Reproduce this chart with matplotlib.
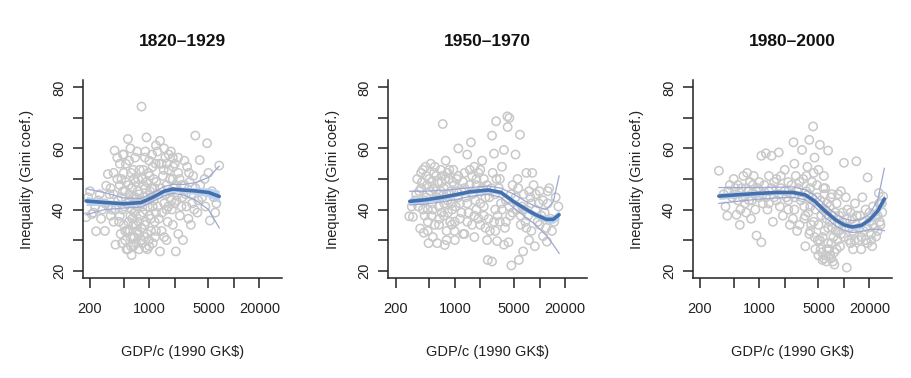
import numpy as np
import matplotlib
matplotlib.use("Agg")
import matplotlib.pyplot as plt
from matplotlib.ticker import FixedLocator, NullLocator

plt.rcParams["font.family"] = ["Liberation Sans", "DejaVu Sans"]

# ---- Data: 1820-1929 ----
gdp_a = [180, 190, 200, 210, 236, 230, 250, 220,
         270, 300, 310, 325, 340, 360, 390, 380, 350, 300, 400, 420, 380, 330,
         450, 470, 480, 500, 520, 540, 560, 580, 600, 620, 640, 660, 680, 700,
         450, 500, 520, 550, 570, 590, 610, 630, 650, 670, 690, 440, 460, 490,
         530, 580, 620, 650, 680,
         720, 740, 760, 780, 800, 811, 830, 860, 880, 900, 929, 950, 980, 1000,
         1020, 1050, 1080, 1100, 1130, 1160, 1190, 720, 760, 800, 850, 900, 950,
         1000, 1050, 1100, 1150, 1200,
         1250, 1300, 1340, 1340, 1400, 1450, 1500, 1550, 1600, 1650, 1700, 1750,
         1800, 1850, 1900, 1950, 2000, 2060, 2100, 2200, 2300, 2400, 2500, 1300,
         1400, 1500, 1600, 1700, 1800, 1900, 2000, 2200, 2400,
         2700, 2800, 2900, 3000, 3200, 3500, 3500, 3700, 3950, 4200, 4500, 4820,
         5000, 5200, 5500, 6000, 6700, 2600, 3100, 3300, 3800, 4000, 4600, 5800,
         6200,
         430, 450, 470, 490, 510, 530, 550, 570, 590, 610, 630, 650, 670, 690,
         710, 730, 750, 770, 790, 810, 830, 850, 870, 890, 910, 930, 960, 990,
         1010, 1040, 1070, 1100, 1130, 1170, 1210, 1260, 1310, 1360, 1420, 1480,
         1540, 1620, 1680, 1760, 1830, 1920, 2030, 2150, 2280, 2450, 2600, 2750,
         2950, 3150, 3400, 700, 750, 820, 880, 950, 600, 560, 520, 480, 650,
         1000, 1200, 1600, 2200, 500, 600, 900, 1200, 1500, 1900, 380, 420, 400,
         350, 280, 260]
gini_a = [37.5, 44, 46, 38.5, 32.9, 41, 43, 39,
          37, 33, 47.8, 51.6, 45, 40, 59.3, 36, 38, 42, 28.5, 57, 52, 41,
          48, 44, 40, 35, 30, 27, 63.1, 45, 38, 25.1, 31, 50, 42, 29,
          55, 52, 46, 42, 36, 33, 28, 47, 53, 39, 44, 36, 32, 58,
          49, 56, 40, 35, 57,
          59, 50, 45, 38, 30, 73.7, 41, 48, 35, 27.5, 63.6, 43, 52, 38,
          46, 33, 58, 41, 50, 36, 55, 33, 27, 42, 53, 47, 32,
          56, 44, 29, 47, 39,
          59, 45, 62.5, 26.3, 33, 51, 42, 57, 48, 36, 53, 44,
          59, 40, 50, 47, 55, 26.3, 43, 52, 38, 48, 30, 37,
          55, 31, 40, 58, 46, 35, 42, 57, 41,
          45, 54, 37, 49, 42, 64.2, 47, 39, 56.2, 44, 50, 61.7,
          52, 36.4, 46, 39, 54.4, 56, 35, 51, 43, 48, 41, 44,
          42,
          43, 38, 50, 46, 41, 55, 33, 48, 43, 52, 37, 44, 31, 49,
          41, 46, 36, 53, 43, 34, 50, 39, 44, 57, 36, 49, 41, 30,
          51, 37, 47, 54, 43, 31, 49, 41, 55, 47, 39, 53,
          45, 55, 41, 50, 43, 54, 48, 45, 50, 44, 48, 41,
          52, 45, 40, 35, 32, 29, 31, 27, 31, 27, 33, 29, 28,
          28, 33, 30, 32, 58, 60, 59, 61, 60, 57, 45, 50, 40,
          47, 40, 45]
fit_x_a = [180, 300, 500, 800, 1100, 1500, 1900, 2500, 3500, 5000, 6700]
fit_a = [42.8, 42.3, 41.9, 42.3, 44.0, 46.0, 46.7, 46.4, 46.1, 45.6, 44.3]
hi_a = [46.8, 45.5, 43.8, 43.6, 45.5, 47.5, 48.3, 48.2, 48.8, 50.5, 54.2]
lo_a = [38.3, 40.0, 40.5, 40.8, 42.6, 44.5, 45.3, 44.8, 43.2, 40.0, 34.0]
se_a = [1.5, 1.0, 0.8, 0.7, 0.7, 0.8, 0.8, 0.9, 1.1, 1.5, 2.0]

# ---- Data: 1950-1970 ----
gdp_b = [290, 320, 310, 340, 360, 390, 380, 400, 430, 420, 450, 470, 480, 460,
         500, 410, 440, 490,
         520, 540, 560, 580, 600, 620, 650, 680, 720, 700, 740, 760, 780, 800,
         820, 850, 880, 900, 930, 960, 990, 530, 570, 610, 660, 700, 750, 820,
         870, 920, 980,
         1020, 1050, 1100, 1150, 1200, 1250, 1300, 1350, 1400, 1450, 1500, 1550,
         1600, 1700, 1750, 1800, 1900, 2000, 2100, 2200, 2300, 2450, 2400, 1100,
         1250, 1400, 1600, 1800, 2000, 2200,
         2550, 2750, 2750, 2800, 2900, 3000, 3070, 3150, 3300, 3400, 3600, 3800,
         3800, 4000, 4170, 4200, 4300, 4400, 4500, 4650, 4800, 2600, 3100, 3500,
         3900, 4600, 2900,
         5200, 5400, 5700, 5870, 6000, 6400, 6500, 7000, 7300, 7800, 8000, 8500,
         9000, 9500, 10000, 11000, 11500, 12200, 12500, 13500, 14900, 15500,
         16700, 5500, 6200, 6800, 7500, 8200, 8800, 9800, 10500, 12000, 13000,
         350, 370, 400, 420, 440, 460, 480, 510, 530, 550, 580, 600, 630, 650,
         680, 710, 740, 770, 800, 830, 860, 900, 940, 1000, 1050, 1100, 1150,
         1200, 1300, 1400, 1500, 1600, 1700, 1800, 1900, 2000, 2100, 2200, 2300,
         2500, 2700, 3000, 3200, 3400, 3600, 4000, 4400, 4800, 5200, 5600, 6000,
         6500, 7000, 7500, 8000, 9000, 10000, 11000, 12500, 14000, 800, 1000,
         1300, 1700, 2000, 2400, 3000, 650, 550, 480]
gini_b = [37.8, 37.6, 41, 43, 50, 33.8, 46, 52, 32.4, 40, 54, 48, 36, 44,
          50, 49, 38, 29,
          55, 42, 47, 35, 51, 29, 45, 53, 68, 39, 47, 28.4, 56, 30,
          43, 50, 36, 46, 40, 53, 33, 38, 52, 44, 37, 49, 42, 52,
          45, 35, 48,
          41, 50, 60, 37, 46, 32, 52, 44, 58, 39, 48, 62,
          35, 54, 43, 50, 37, 46, 56, 41, 34, 23.5, 48, 44,
          49, 36, 51, 40, 53, 38,
          44, 64.2, 23, 52, 58.3, 40, 68.9, 29.7, 47, 36, 54, 28.5,
          59.5, 43, 70.5, 67, 29.3, 70, 38, 21.7, 48, 33, 50, 42,
          34, 45, 36,
          58, 40, 23.5, 64.5, 35, 26.3, 45, 52, 38, 44, 33, 48,
          40, 36, 46, 31.3, 39, 29.5, 42, 37, 36, 44,
          41, 50, 41, 36, 30, 52, 28, 42, 38, 34, 47,
          45, 41, 47, 53, 43, 51, 40, 46, 49, 40, 54, 46, 49, 41,
          46, 51, 38, 50, 45, 39, 53, 42, 49, 36, 46, 51, 42,
          39, 47, 42, 53, 45, 38, 48, 52, 42, 47, 50, 44,
          37, 47, 45, 38, 50, 40, 36, 41, 39, 44, 47, 38,
          40, 34, 46, 42, 45, 35, 43, 46, 33, 33, 30,
          32, 31, 35, 30, 33, 35, 31, 33]
fit_x_b = [294, 450, 700, 1000, 1500, 2500, 3500, 5000, 7000, 9000, 12000,
           14500, 17000]
fit_b = [42.7, 43.2, 44.0, 44.8, 45.8, 46.4, 45.6, 42.5, 40.0, 38.3, 36.8,
         36.8, 38.3]
hi_b = [46.0, 46.0, 46.3, 46.6, 47.2, 47.7, 47.0, 45.0, 42.5, 41.0, 40.0,
        42.5, 51.0]
lo_b = [41.5, 41.8, 42.5, 43.2, 44.3, 45.0, 44.0, 40.5, 37.3, 35.0, 31.5,
        28.5, 25.7]
se_b = [1.2, 1.0, 0.8, 0.7, 0.7, 0.7, 0.8, 0.9, 0.9, 1.0, 1.1, 1.3, 1.6]

# ---- Data: 1980-2000 ----
gdp_c = [334, 380, 400, 420, 450, 480, 500, 540, 560, 590, 620, 650, 680, 700,
         740, 780, 820, 860, 900, 930, 960, 1000, 430, 520, 600, 720, 800, 880,
         1060, 1060, 1100, 1150, 1200, 1250, 1300, 1400, 1450, 1500, 1600, 1700,
         1750, 1800, 1900, 2000, 2100, 2200, 2300, 2400, 2540, 2600, 2700, 2800,
         2900, 1300, 1700, 2200, 2600,
         3100, 3200, 3300, 3400, 3500, 3600, 3700, 3900, 3900, 4000, 4200, 4320,
         4400, 4600, 4800, 5000, 5200, 5200, 5400, 5570, 5700, 5900, 6100, 6300,
         6500, 6500, 6800, 7000, 7200, 7500, 7700, 7900, 4500, 5800, 6000, 6700,
         7300, 3800, 4100, 4900, 5500, 6200,
         8200, 8500, 8800, 9000, 9500, 10000, 10000, 10800, 11000, 11500, 12000,
         12500, 13000, 13500, 14000, 14000, 15000, 15500, 16000, 17000, 18000,
         19000, 19000, 20000, 21000, 22000, 23000, 24000, 25000, 25800, 27000,
         28300, 29000, 9200, 12800, 16500, 21500, 26000,
         500, 560, 640, 700, 760, 840, 920, 1000, 1100, 1200, 1300, 1400, 1500,
         1600, 1800, 2000, 2200, 2400, 2600, 2800, 3000, 3200, 3400, 3600, 3800,
         4000, 4200, 4400, 4600, 4800, 5000, 5300, 5600, 5900, 6200, 6500, 6800,
         7100, 7400, 7700, 8000, 8400, 8800, 9200, 9600, 10200, 10800, 11400,
         12000, 12700, 13400, 14200, 15000, 16000, 17000, 18000, 19000, 20000,
         21000, 22000, 23500, 25000, 26500, 28000, 5000, 5300, 5800, 6300, 6900,
         7400, 8200, 4500, 4000, 3500, 3000, 2500, 6000, 7000, 8500, 10500]
gini_c = [52.7, 45, 41, 38, 48, 44, 50, 38.3, 43, 35, 47, 51, 42, 39,
          46, 49, 43, 51, 40, 31.5, 47, 44, 46, 47, 40, 52, 37, 45,
          57.6, 29.3, 42, 48, 58.4, 40, 46, 57.6, 36, 44, 50, 58.7,
          41, 47, 38, 53, 44, 49, 35, 45, 62, 40, 51, 33,
          47, 51, 45, 40, 55,
          43, 59.5, 50, 37, 28, 46, 54, 62.8, 32, 41, 49, 67.2,
          36, 27, 44, 53, 61.2, 30, 38, 23.5, 47, 33, 25, 42,
          59.3, 29, 36, 24, 45, 31, 22, 39, 57, 51, 40, 27,
          34, 45, 35, 30, 26, 23,
          42, 33, 38, 28, 36, 55.3, 31, 21, 40, 34, 29,
          37, 32, 42, 55.8, 35, 30, 38, 27, 33, 40,
          50.5, 29, 36, 32, 41, 34, 31.2, 38, 45.4, 35,
          39.1, 44.3, 46, 27, 44, 28, 42,
          45, 48, 44, 47, 43, 48, 46, 49, 45, 44, 42, 47, 49,
          43, 51, 46, 43, 48, 44, 46, 49, 44, 41, 51, 39,
          47, 44, 52, 40, 48, 35, 43, 31, 45, 37, 34, 41,
          29, 38, 26, 33, 30, 35, 32, 39, 34, 37, 30,
          39, 33, 30, 38, 34, 31, 36, 30, 34, 39,
          30, 35, 38, 33, 36, 42, 25, 27, 24, 27, 25,
          23, 27, 31, 33, 38, 35, 37, 47, 44, 45, 44]
fit_x_c = [334, 600, 1000, 1600, 2500, 3500, 4500, 6000, 8000, 10000, 12500,
           16000, 20000, 25000, 30000]
fit_c = [44.4, 44.9, 45.3, 45.6, 45.6, 44.8, 42.8, 39.5, 36.6, 35.0, 34.3,
         34.8, 36.6, 39.5, 43.5]
hi_c = [47.2, 47.2, 47.2, 47.3, 47.4, 46.5, 44.7, 41.5, 38.5, 37.0, 36.4,
        36.8, 38.5, 43.0, 53.5]
lo_c = [42.0, 42.8, 43.4, 43.8, 44.0, 43.2, 41.0, 37.4, 34.7, 33.2, 32.5,
        32.8, 33.5, 33.5, 33.1]
se_c = [1.1, 0.9, 0.8, 0.7, 0.7, 0.7, 0.8, 0.8, 0.8, 0.8, 0.8, 0.9, 1.0,
        1.3, 1.8]

titles = ["1820\u20131929", "1950\u20131970", "1980\u20132000"]
panels = [
    (gdp_a, gini_a, fit_x_a, fit_a, hi_a, lo_a, se_a),
    (gdp_b, gini_b, fit_x_b, fit_b, hi_b, lo_b, se_b),
    (gdp_c, gini_c, fit_x_c, fit_c, hi_c, lo_c, se_c),
]
x_ticks = [200, 500, 1000, 2000, 5000, 10000, 20000]
x_labels = ["200", "", "1000", "", "5000", "", "20000"]
y_ticks = [20, 30, 40, 50, 60, 70, 80]
y_labels = ["20", "", "40", "", "60", "", "80"]

fig = plt.figure(figsize=(9.12, 3.78), dpi=100)
lefts = [82.7, 388.3, 692.7]

for i, (gx, gy, fx, fy, hi, lo, se) in enumerate(panels):
    ax = fig.add_axes([lefts[i] / 912, 1 - 278 / 378, 199 / 912, 198 / 378])
    ax.scatter(gx, gy, s=36, facecolors="none", edgecolors="#c8c8c8",
               linewidths=1.1, zorder=2)
    fy = np.array(fy)
    se = np.array(se)
    ax.fill_between(fx, fy - se, fy + se, color="#b9d3ee", lw=0, zorder=3)
    ax.plot(fx, hi, color="#9ea8d6", lw=0.9, zorder=3)
    ax.plot(fx, lo, color="#9ea8d6", lw=0.9, zorder=3)
    ax.plot(fx, fy, color="#4670ad", lw=2.6, zorder=4,
            solid_capstyle="round")

    ax.set_xscale("log")
    ax.set_xlim(164, 36600)
    ax.set_ylim(17.6, 82.4)
    ax.xaxis.set_major_locator(FixedLocator(x_ticks))
    ax.xaxis.set_minor_locator(NullLocator())
    ax.set_xticklabels(x_labels)
    ax.set_yticks(y_ticks)
    ax.set_yticklabels(y_labels, rotation=90, va="center")
    ax.tick_params(axis="both", direction="out", length=7, width=1.1,
                   labelsize=10.5, colors="#222222")
    ax.tick_params(axis="x", pad=10)
    ax.tick_params(axis="y", pad=5)
    for s in ["top", "right"]:
        ax.spines[s].set_visible(False)
    for s in ["left", "bottom"]:
        ax.spines[s].set_linewidth(1.1)
        ax.spines[s].set_color("#222222")

    ax.set_xlabel("GDP/c (1990 GK$)", fontsize=10.5, color="#222222")
    ax.xaxis.set_label_coords(0.5, -0.34)
    ax.set_ylabel("Inequality (Gini coef.)", fontsize=10.5, color="#222222")
    ax.yaxis.set_label_coords(-0.245, 0.5)
    ax.text(0.5, 1 + (80 - 42) / 198, titles[i], transform=ax.transAxes,
            ha="center", va="center", fontsize=12.5, fontweight="bold",
            color="#111111")

fig.savefig("out.png", dpi=100)
